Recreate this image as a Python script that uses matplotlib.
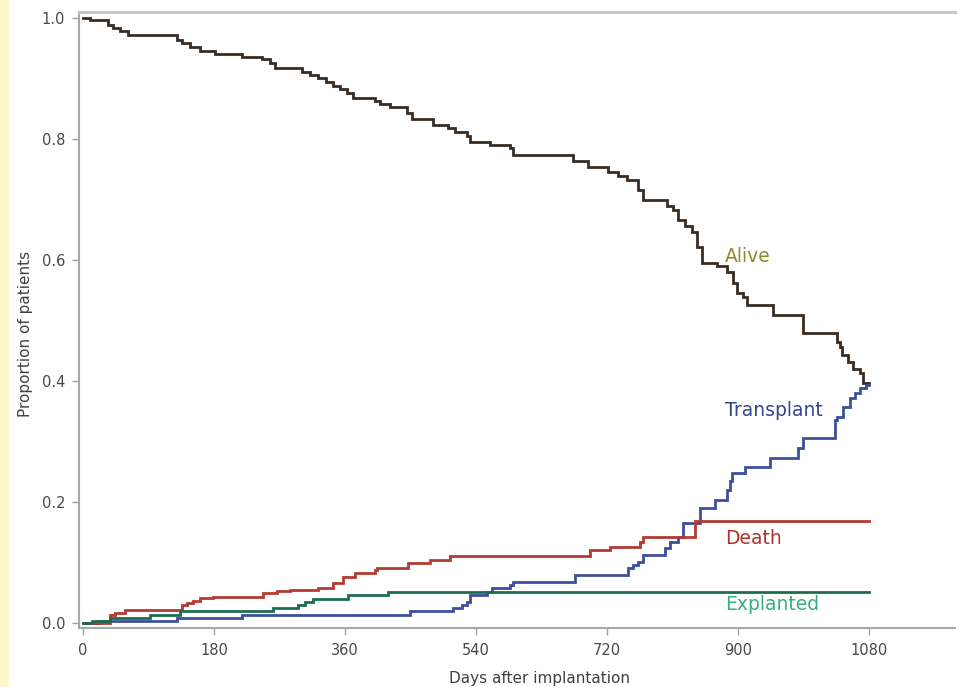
import matplotlib
matplotlib.use("Agg")
import matplotlib.pyplot as plt
from matplotlib.patches import Rectangle

plt.rcParams['font.family'] = ['DejaVu Sans']

# Competing outcomes after device implantation (step functions, value after each event day)
alive_days = [0, 10, 34, 41, 51, 62, 129, 136, 147, 161, 181, 218, 246, 257, 264,
              301, 312, 323, 334, 343, 353, 363, 371, 401, 408, 422, 445, 452, 481,
              502, 511, 528, 532, 559, 587, 591, 673, 694, 721, 735, 747, 763, 769,
              802, 811, 818, 827, 836, 844, 851, 871, 885, 893, 899, 907, 912, 948,
              989, 1036, 1040, 1043, 1051, 1058, 1068, 1072]
alive_vals = [1.0, 0.997, 0.988, 0.984, 0.978, 0.972, 0.964, 0.958, 0.952, 0.946, 0.940,
              0.936, 0.932, 0.925, 0.917, 0.911, 0.906, 0.900, 0.894, 0.888, 0.882, 0.876,
              0.868, 0.862, 0.858, 0.853, 0.843, 0.833, 0.823, 0.818, 0.812, 0.805, 0.795,
              0.790, 0.785, 0.774, 0.764, 0.754, 0.745, 0.738, 0.732, 0.716, 0.699, 0.690,
              0.683, 0.666, 0.656, 0.646, 0.621, 0.595, 0.590, 0.580, 0.562, 0.545, 0.539,
              0.526, 0.509, 0.479, 0.465, 0.456, 0.443, 0.431, 0.420, 0.413, 0.397]

transplant_days = [0, 23, 129, 218, 449, 508, 521, 528, 532, 555, 562, 587, 591, 676,
                   749, 756, 763, 769, 800, 807, 818, 824, 848, 868, 885, 889, 892, 910,
                   944, 982, 989, 1033, 1036, 1044, 1054, 1061, 1068, 1076]
transplant_vals = [0.0, 0.003, 0.008, 0.013, 0.020, 0.025, 0.030, 0.035, 0.046, 0.051,
                   0.058, 0.063, 0.068, 0.079, 0.091, 0.096, 0.101, 0.112, 0.124, 0.134,
                   0.142, 0.165, 0.190, 0.203, 0.220, 0.235, 0.248, 0.258, 0.273, 0.289,
                   0.306, 0.336, 0.340, 0.357, 0.372, 0.380, 0.388, 0.394]

death_days = [0, 37, 44, 58, 136, 143, 151, 161, 179, 247, 267, 284, 323, 343, 357,
              374, 401, 404, 447, 477, 504, 697, 724, 765, 769, 841]
death_vals = [0.0, 0.013, 0.017, 0.022, 0.030, 0.033, 0.036, 0.041, 0.043, 0.050, 0.053,
              0.055, 0.058, 0.066, 0.076, 0.083, 0.088, 0.091, 0.099, 0.104, 0.111, 0.121,
              0.126, 0.134, 0.142, 0.168]

explant_days = [0, 12, 37, 92, 133, 261, 295, 305, 316, 364, 419]
explant_vals = [0.0, 0.003, 0.008, 0.013, 0.020, 0.025, 0.030, 0.035, 0.040, 0.046, 0.051]

end_day = 1080
x_ticks = [0, 180, 360, 540, 720, 900, 1080]
y_ticks = [0.0, 0.2, 0.4, 0.6, 0.8, 1.0]

series = [
    ("Alive", alive_days, alive_vals, "#3a2c20", "#8f8a2c", 0.605),
    ("Transplant", transplant_days, transplant_vals, "#3c4f9a", "#34448e", 0.352),
    ("Death", death_days, death_vals, "#b63a33", "#b2302c", 0.140),
    ("Explanted", explant_days, explant_vals, "#1e6c50", "#34b07c", 0.031),
]

fig = plt.figure(figsize=(9.59, 6.87), dpi=100)
fig.patch.set_facecolor("white")
fig.patches.append(Rectangle((0, 0), 9 / 959, 1, transform=fig.transFigure,
                             facecolor="#fff7cc", edgecolor="none", zorder=0))

ax = fig.add_axes([79 / 959, 1 - 628 / 687, 876 / 959, 616 / 687])

for name, days, vals, lc, tc, ly in series:
    xs = list(days) + [end_day]
    ys = list(vals) + [vals[-1]]
    ax.step(xs, ys, where="post", color=lc, linewidth=2.0, solid_joinstyle="miter")
    ax.text(882, ly, name, color=tc, fontsize=13.5, ha="left", va="center")

ax.set_xlim(-5.5, 1198)
ax.set_ylim(-0.0083, 1.0099)
ax.set_xticks(x_ticks)
ax.set_xticklabels([str(t) for t in x_ticks])
ax.set_yticks(y_ticks)
ax.set_yticklabels([f"{t:.1f}" for t in y_ticks])

ax.tick_params(axis="both", direction="out", length=5, width=1.0, color="#a0a0a0",
               labelsize=10.5, labelcolor="#484848")
ax.tick_params(axis="y", pad=5)
ax.tick_params(axis="x", pad=6)

for side in ("left", "bottom"):
    ax.spines[side].set_color("#a8a8a8")
    ax.spines[side].set_linewidth(1.5)
ax.spines["top"].set_color("#c8c8c8")
ax.spines["top"].set_linewidth(2.2)
ax.spines["right"].set_visible(False)

ax.set_xlabel("Days after implantation", fontsize=11, color="#404040")
ax.set_ylabel("Proportion of patients", fontsize=11, color="#404040")
ax.xaxis.set_label_coords(0.526, -0.07)
ax.yaxis.set_label_coords(-0.061, 0.478)
ax.yaxis.label.set_va("center")

fig.savefig("out.png", dpi=100, facecolor="white")
